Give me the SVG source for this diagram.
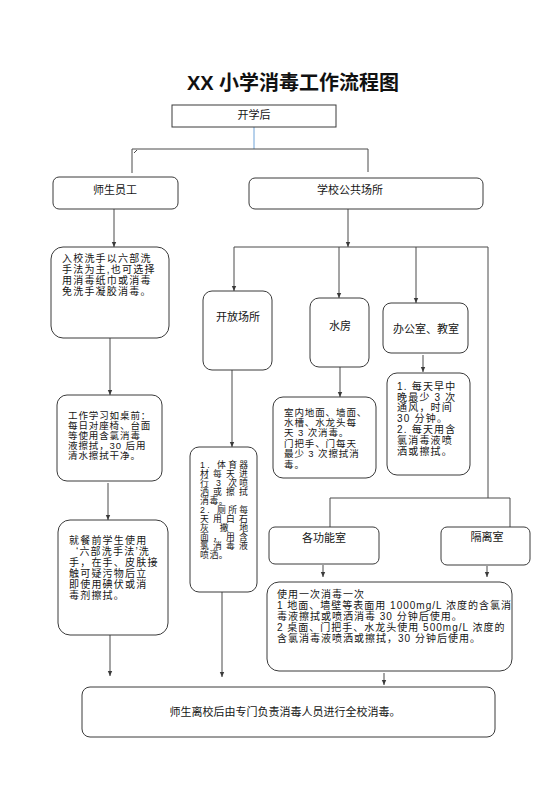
<svg xmlns="http://www.w3.org/2000/svg" width="560" height="792" viewBox="0 0 560 792">
<style>
  .bg{fill:#ffffff}
  .box{fill:#ffffff;stroke:#3a3a3a;stroke-width:1}
  .ln{fill:none;stroke:#4a4a4a;stroke-width:1}
  .ar{fill:none;stroke:#4a4a4a;stroke-width:1;marker-end:url(#ah)}
  .t{font-family:"Liberation Sans","Noto Sans CJK SC",sans-serif;font-size:11px;fill:#151515}
  .c{text-anchor:middle}
  .p10{font-size:10px;letter-spacing:1.2px}
  .p95{font-size:9.5px;letter-spacing:0.9px}
  .p9{font-size:8.8px}
  .j4{letter-spacing:4.2px}
  .j5{letter-spacing:2.4px}
  .j0{letter-spacing:0.6px}
  .title{font-family:"Liberation Sans","Noto Sans CJK SC",sans-serif;font-size:20px;font-weight:bold;fill:#111;text-anchor:middle}
</style>
<defs>
  <marker id="ah" markerUnits="userSpaceOnUse" markerWidth="6" markerHeight="6" refX="5" refY="3" orient="auto">
    <path d="M0,0.8 L5,3 L0,5.2 Z" fill="#3a3a3a"/>
  </marker>
</defs>
<rect class="bg" x="0" y="0" width="560" height="792"/>

<text class="title" x="293" y="90">XX 小学消毒工作流程图</text>

<g id="connectors">
  <line x1="254" y1="127" x2="254" y2="149" stroke="#6fa3d8" stroke-width="1"/>
  <polyline class="ln" points="132,173 132,149 368,149 368,172"/>
  <line class="ln" x1="134" y1="153" x2="137" y2="150"/>
  <line class="ar" x1="114" y1="209" x2="114" y2="247"/>
  <line class="ar" x1="110" y1="338" x2="110" y2="395"/>
  <line class="ar" x1="108" y1="483" x2="108" y2="520"/>
  <line class="ar" x1="110" y1="635" x2="110" y2="676"/>
  <line class="ar" x1="348" y1="209" x2="348" y2="247"/>
  <polyline class="ln" points="234,247 488,247 488,498"/>
  <line class="ar" x1="234" y1="247" x2="234" y2="291"/>
  <line class="ar" x1="339" y1="247" x2="339" y2="298"/>
  <line class="ar" x1="416" y1="247" x2="416" y2="303"/>
  <line class="ar" x1="232" y1="370" x2="232" y2="447"/>
  <line class="ar" x1="340" y1="367" x2="340" y2="397"/>
  <line class="ar" x1="423" y1="355" x2="423" y2="372"/>
  <polyline class="ln" points="330,527 330,498 510,498 510,527"/>
  <line class="ar" x1="323" y1="565" x2="323" y2="577"/>
  <line class="ar" x1="487" y1="566" x2="487" y2="577"/>
  <line class="ar" x1="222" y1="592" x2="222" y2="677"/>
  <line class="ar" x1="384" y1="673" x2="384" y2="685"/>
</g>

<g id="start">
  <rect class="box" x="172" y="105" width="164" height="22"/>
  <text class="t c" x="254" y="119">开学后</text>
</g>

<g id="staff">
  <rect class="box" x="53" y="177" width="125" height="32" rx="6"/>
  <text class="t c" x="115" y="194">师生员工</text>
</g>

<g id="public">
  <rect class="box" x="249" y="178" width="234" height="31" rx="6"/>
  <text class="t c" x="350" y="194">学校公共场所</text>
</g>

<g id="handwash">
  <rect class="box" x="51" y="247" width="118" height="91" rx="12"/>
  <text class="t p10" x="62" y="262">入校洗手以六部洗</text>
  <text class="t p10" x="62" y="273">手法为主,也可选择</text>
  <text class="t p10" x="62" y="284">用消毒纸巾或消毒</text>
  <text class="t p10" x="62" y="295">免洗手凝胶消毒。</text>
</g>

<g id="desk">
  <rect class="box" x="57" y="395" width="105" height="86" rx="10"/>
  <text class="t p95" x="68" y="419">工作学习如桌前：</text>
  <text class="t p95" x="68" y="429">每日对座椅、台面</text>
  <text class="t p95" x="68" y="439">等使用含氯消毒</text>
  <text class="t p95" x="68" y="449">液擦拭，30 后用</text>
  <text class="t p95" x="68" y="459">清水擦拭干净。</text>
</g>

<g id="meal">
  <rect class="box" x="58" y="520" width="110" height="115" rx="12"/>
  <text class="t p10" x="69" y="544">就餐前学生使用</text>
  <text class="t p10" x="76" y="555">‘六部洗手法’洗</text>
  <text class="t p10" x="69" y="566">手，在手、皮肤接</text>
  <text class="t p10" x="69" y="577">触可疑污物后立</text>
  <text class="t p10" x="69" y="588">即使用碘伏或消</text>
  <text class="t p10" x="69" y="599">毒剂擦拭。</text>
</g>

<g id="open">
  <rect class="box" x="203" y="291" width="69" height="79" rx="9"/>
  <text class="t c" x="238" y="321">开放场所</text>
</g>

<g id="open-text">
  <rect class="box" x="190" y="447" width="67" height="145" rx="9"/>
  <text class="t p9 j5" x="200" y="468">1. 体育器</text>
  <text class="t p9 j4" x="200" y="477">材每天进</text>
  <text class="t p9 j5" x="200" y="486">行 3 次喷</text>
  <text class="t p9 j4" x="200" y="495">洒或擦拭</text>
  <text class="t p9 j0" x="200" y="504">消毒。</text>
  <text class="t p9 j5" x="200" y="513">2. 厕所每</text>
  <text class="t p9 j4" x="200" y="522">天用白石</text>
  <text class="t p9 j4" x="200" y="531">灰 撒 地</text>
  <text class="t p9 j4" x="200" y="540">面，用含</text>
  <text class="t p9 j4" x="200" y="549">氯消毒液</text>
  <text class="t p9 j0" x="200" y="558">喷洒。</text>
</g>

<g id="water">
  <rect class="box" x="310" y="298" width="59" height="69" rx="9"/>
  <text class="t c" x="340" y="330">水房</text>
</g>

<g id="water-text">
  <rect class="box" x="273" y="397" width="103" height="81" rx="10"/>
  <text class="t p95" x="284" y="416">室内地面、墙面、</text>
  <text class="t p95" x="284" y="426">水槽、水龙头每</text>
  <text class="t p95" x="284" y="436">天 3 次消毒。</text>
  <text class="t p95" x="284" y="447">门把手、门每天</text>
  <text class="t p95" x="284" y="457">最少 3 次擦拭消</text>
  <text class="t p95" x="284" y="468">毒。</text>
</g>

<g id="office">
  <rect class="box" x="383" y="303" width="85" height="50" rx="8"/>
  <text class="t c" x="426" y="333">办公室、教室</text>
</g>

<g id="office-text">
  <rect class="box" x="387" y="373" width="83" height="102" rx="10"/>
  <text class="t p10" x="397" y="390">1. 每天早中</text>
  <text class="t p10" x="397" y="401">晚最少 3 次</text>
  <text class="t p10" x="397" y="411">通风，时间</text>
  <text class="t p10" x="397" y="422">30 分钟。</text>
  <text class="t p10" x="397" y="433">2. 每天用含</text>
  <text class="t p10" x="397" y="444">氯消毒液喷</text>
  <text class="t p10" x="397" y="455">洒或擦拭。</text>
</g>

<g id="function-room">
  <rect class="box" x="269" y="527" width="110" height="37" rx="6"/>
  <text class="t c" x="324" y="542">各功能室</text>
</g>

<g id="isolation">
  <rect class="box" x="441" y="527" width="89" height="38" rx="6"/>
  <text class="t c" x="487" y="541">隔离室</text>
</g>

<g id="room-text">
  <rect class="box" x="267" y="582" width="245" height="89" rx="12"/>
  <text class="t p10" x="277" y="598" style="letter-spacing:1px">使用一次消毒一次</text>
  <text class="t p10" x="277" y="609" style="letter-spacing:1px">1 地面、墙壁等表面用 1000mg/L 浓度的含氯消</text>
  <text class="t p10" x="277" y="620" style="letter-spacing:1px">毒液擦拭或喷洒消毒 30 分钟后使用。</text>
  <text class="t p10" x="277" y="631" style="letter-spacing:1px">2 桌面、门把手、水龙头使用 500mg/L 浓度的</text>
  <text class="t p10" x="277" y="642" style="letter-spacing:1px">含氯消毒液喷洒或擦拭，30 分钟后使用。</text>
</g>

<g id="leave">
  <rect class="box" x="82" y="687" width="413" height="50" rx="8"/>
  <text class="t c" x="285" y="716">师生离校后由专门负责消毒人员进行全校消毒。</text>
</g>
</svg>
